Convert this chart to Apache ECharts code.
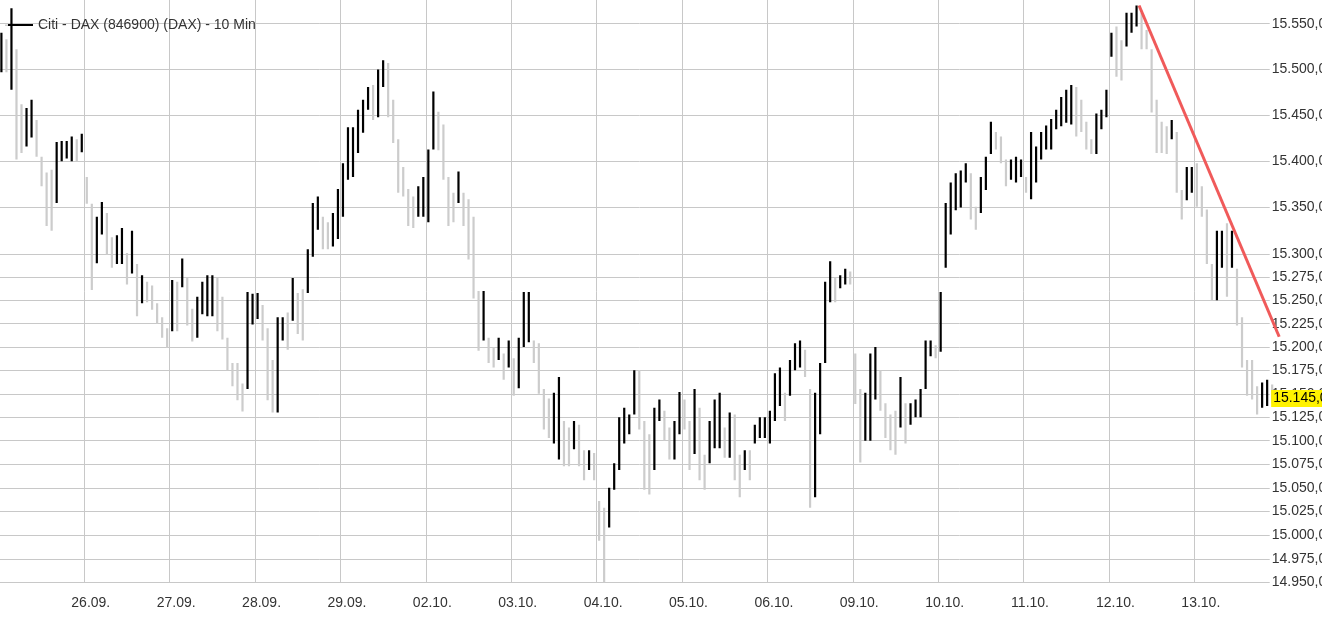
<!DOCTYPE html>
<html>
<head>
<meta charset="utf-8">
<script src="https://cdn.jsdelivr.net/npm/echarts@6/dist/echarts.min.js"></script>
<style>
html,body{margin:0;padding:0;background:#fff;}
#chart{width:1322px;height:618px;}
</style>
</head>
<body>
<div id="chart"></div>
<script>
// ---- data ----
const seriesName = 'Citi - DAX (846900) (DAX) - 10 Min';
const dayLabels = ['26.09.', '27.09.', '28.09.', '29.09.', '02.10.', '03.10.', '04.10.',
                   '05.10.', '06.10.', '09.10.', '10.10.', '11.10.', '12.10.', '13.10.'];
const barsPerDay = 17;   // sampled columns per trading day (first day 25.09. is unlabelled)
const dayCount = 15;

const lows = [
  // 25.09.
  15497, 15497, 15478, 15402, 15409, 15416, 15426, 15405, 15373, 15330, 15325, 15355, 15400, 15403, 15400, 15400, 15410,
  // 26.09.
  15354, 15261, 15290, 15321, 15299, 15285, 15289, 15289, 15267, 15279, 15233, 15247, 15248, 15240, 15225, 15210, 15199,
  // 27.09.
  15217, 15217, 15264, 15223, 15206, 15210, 15235, 15233, 15233, 15217, 15208, 15175, 15158, 15143, 15131, 15155, 15224,
  // 28.09.
  15230, 15207, 15143, 15130, 15130, 15207, 15197, 15228, 15214, 15207, 15258, 15297, 15326, 15305, 15305, 15308, 15316,
  // 29.09.
  15340, 15380, 15383, 15409, 15431, 15456, 15445, 15448, 15481, 15448, 15420, 15366, 15362, 15330, 15328, 15340, 15340,
  // 02.10.
  15334, 15413, 15412, 15380, 15330, 15334, 15355, 15330, 15294, 15252, 15196, 15207, 15183, 15178, 15186, 15165, 15178,
  // 03.10.
  15148, 15156, 15200, 15205, 15183, 15150, 15112, 15103, 15097, 15080, 15073, 15073, 15091, 15073, 15058, 15069, 15058,
  // 04.10.
  14994, 14950, 15008, 15048, 15069, 15097, 15107, 15128, 15112, 15048, 15043, 15069, 15121, 15100, 15080, 15080, 15107,
  // 05.10.
  15112, 15069, 15086, 15058, 15048, 15076, 15092, 15092, 15082, 15082, 15058, 15040, 15069, 15058, 15097, 15103, 15103,
  // 06.10.
  15097, 15121, 15137, 15121, 15148, 15175, 15178, 15168, 15029, 15040, 15107, 15183, 15248, 15248, 15263, 15267, 15267,
  // 09.10.
  15139, 15077, 15100, 15100, 15144, 15132, 15103, 15090, 15085, 15114, 15097, 15117, 15125, 15125, 15155, 15190, 15188,
  // 10.10.
  15195, 15285, 15321, 15347, 15350, 15377, 15337, 15326, 15344, 15369, 15408, 15413, 15398, 15373, 15380, 15377, 15383,
  // 11.10.
  15366, 15359, 15377, 15402, 15413, 15413, 15435, 15438, 15442, 15440, 15427, 15432, 15413, 15408, 15408, 15435, 15448,
  // 12.10.
  15514, 15492, 15488, 15525, 15540, 15547, 15522, 15522, 15453, 15409, 15409, 15408, 15424, 15366, 15337, 15358, 15366,
  // 13.10.
  15351, 15340, 15289, 15250, 15250, 15285, 15254, 15285, 15223, 15178, 15148, 15144, 15128, 15135, 15137, 15140
];

const highs = [
  // 25.09.
  15540, 15533, 15567, 15522, 15462, 15458, 15467, 15445, 15405, 15388, 15391, 15421, 15422, 15422, 15427, 15424, 15430,
  // 26.09.
  15383, 15354, 15340, 15356, 15344, 15318, 15320, 15328, 15301, 15325, 15289, 15277, 15270, 15266, 15247, 15232, 15220,
  // 27.09.
  15272, 15270, 15295, 15274, 15241, 15254, 15270, 15277, 15277, 15274, 15254, 15210, 15183, 15183, 15161, 15259, 15257,
  // 28.09.
  15258, 15245, 15220, 15186, 15232, 15232, 15237, 15274, 15258, 15262, 15305, 15355, 15362, 15340, 15334, 15344, 15370,
  // 29.09.
  15398, 15437, 15437, 15456, 15467, 15481, 15483, 15500, 15510, 15507, 15467, 15424, 15394, 15370, 15362, 15373, 15383,
  // 02.10.
  15413, 15476, 15454, 15440, 15383, 15366, 15389, 15366, 15359, 15340, 15260, 15260, 15210, 15200, 15210, 15193, 15207,
  // 03.10.
  15188, 15210, 15259, 15259, 15207, 15204, 15155, 15145, 15151, 15168, 15121, 15114, 15121, 15117, 15090, 15090, 15087,
  // 04.10.
  15036, 15029, 15050, 15076, 15125, 15135, 15128, 15175, 15175, 15121, 15107, 15135, 15144, 15132, 15114, 15121, 15152,
  // 05.10.
  15144, 15121, 15155, 15135, 15085, 15121, 15144, 15151, 15114, 15130, 15128, 15085, 15090, 15090, 15117, 15125, 15125,
  // 06.10.
  15132, 15172, 15178, 15151, 15186, 15204, 15207, 15197, 15155, 15151, 15183, 15270, 15292, 15274, 15277, 15284, 15281,
  // 09.10.
  15193, 15155, 15151, 15193, 15200, 15175, 15140, 15128, 15132, 15168, 15140, 15140, 15144, 15155, 15207, 15207, 15202,
  // 10.10.
  15259, 15355, 15377, 15387, 15390, 15398, 15387, 15351, 15383, 15405, 15443, 15432, 15427, 15402, 15402, 15405, 15402,
  // 11.10.
  15383, 15432, 15416, 15432, 15439, 15446, 15456, 15470, 15478, 15483, 15481, 15467, 15443, 15424, 15452, 15456, 15478,
  // 12.10.
  15540, 15547, 15532, 15562, 15562, 15570, 15562, 15543, 15522, 15467, 15443, 15438, 15445, 15432, 15369, 15394, 15394,
  // 13.10.
  15398, 15373, 15348, 15289, 15325, 15325, 15333, 15325, 15284, 15232, 15186, 15186, 15158, 15162, 15165, 15160
];

const yTicks = [14950, 14975, 15000, 15025, 15050, 15075, 15100, 15125, 15150, 15175, 15200,
                15225, 15250, 15275, 15300, 15350, 15400, 15450, 15500, 15550];
const yMin = 14950;
const yMax = 15576;
const lastPrice = 15145;
const trendStart = [227.0, 15570];   // [column position, price]
const trendEnd = [254.9, 15211];

// ---- helpers ----
const fmt = v => {
  const s = String(Math.round(v));
  return s.slice(0, -3) + '.' + s.slice(-3) + ',00';
};
const font = "'Liberation Sans', Arial, sans-serif";

const bars = lows.map((lo, i) => {
  const mid = (lo + highs[i]) / 2;
  const prevMid = i > 0 ? (lows[i - 1] + highs[i - 1]) / 2 : mid;
  return [i + 0.5, lo, highs[i], mid >= prevMid ? 1 : 0];
});

const chart = echarts.init(document.getElementById('chart'), null, {renderer: 'canvas'});
chart.setOption({
  animation: false,
  backgroundColor: '#ffffff',
  textStyle: {fontFamily: font},
  grid: {left: -1.1, right: 42.3, top: 0, bottom: 35.5, containLabel: false, outerBoundsMode: 'none'},
  legend: {
    left: 3, top: 13,
    data: [seriesName],
    icon: 'rect', itemWidth: 25, itemHeight: 2,
    textStyle: {fontSize: 14, color: '#333', fontFamily: font},
    selectedMode: false
  },
  graphic: [{type: 'rect', left: 5, top: 24.5, shape: {width: 25, height: 1.5}, style: {fill: '#cfcfcf'}, silent: true}],
  xAxis: {
    type: 'value', min: 0, max: dayCount * barsPerDay, interval: barsPerDay,
    axisLine: {show: true, lineStyle: {color: '#c8c8c8'}},
    axisTick: {show: false},
    splitLine: {show: true, showMinLine: false, showMaxLine: false, lineStyle: {color: '#c8c8c8'}},
    axisLabel: {
      showMinLabel: false, showMaxLabel: false,
      formatter: v => dayLabels[Math.round(v / barsPerDay) - 1] || '',
      color: '#333', fontSize: 14, fontFamily: font, margin: 14, padding: [0, 0, 0, 13]
    }
  },
  yAxis: {
    type: 'log', logBase: 10, min: yMin, max: yMax, position: 'right',
    axisLine: {show: false},
    axisTick: {show: false, customValues: yTicks},
    splitLine: {show: true, lineStyle: {color: '#c8c8c8'}},
    axisLabel: {
      customValues: yTicks, formatter: fmt, align: 'left', margin: -10,
      color: '#333', fontSize: 14, fontFamily: font,
      backgroundColor: '#ffffff', padding: [1, 0, 1, 2]
    }
  },
  series: [
    {
      name: seriesName, type: 'custom', itemStyle: {color: '#000'},
      data: bars, encode: {x: 0, y: [1, 2]}, clip: true,
      renderItem: (params, api) => {
        const x = api.value(0);
        const p1 = api.coord([x, api.value(1)]);
        const p2 = api.coord([x, api.value(2)]);
        return {
          type: 'line',
          shape: {x1: p1[0], y1: p1[1], x2: p2[0], y2: p2[1]},
          style: {stroke: api.value(3) ? '#000000' : '#cccccc', lineWidth: 2.2}
        };
      }
    },
    {
      name: 'trend', type: 'line', data: [trendStart, trendEnd],
      symbol: 'none', clip: false, silent: true, z: 5,
      lineStyle: {color: '#f05a5a', width: 3}
    },
    {
      name: 'last', type: 'line', data: [[200, lastPrice], [253.3, lastPrice]],
      symbol: 'none', clip: false, silent: true, z: 6,
      lineStyle: {opacity: 0},
      endLabel: {
        show: true, distance: 0, formatter: () => fmt(lastPrice),
        backgroundColor: '#fff200', color: '#000', fontSize: 14, fontFamily: font,
        padding: [2, 4, 1, 2]
      }
    }
  ]
});
</script>
</body>
</html>
